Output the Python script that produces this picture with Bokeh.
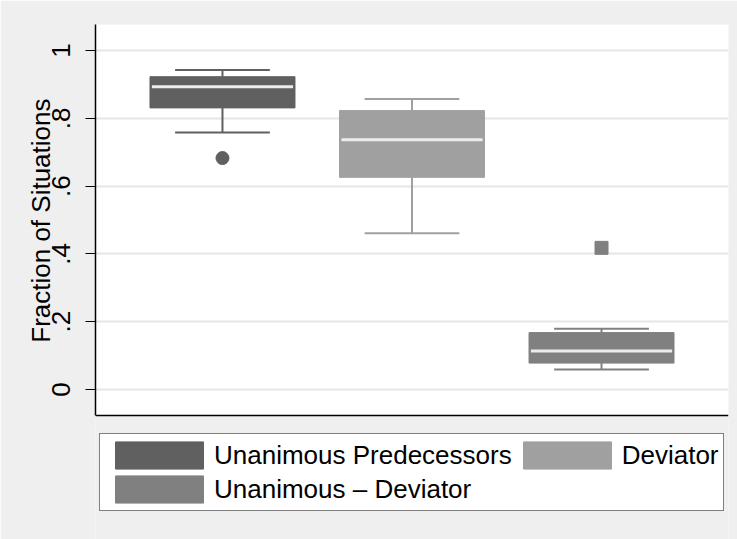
from bokeh.plotting import figure
from bokeh.models import (ColumnDataSource, Legend, LegendItem, FixedTicker, Range1d,
                          BoxAnnotation, Title)
from bokeh.embed import file_html
from bokeh.resources import INLINE

# ---- data ----
groups = ["Unanimous Predecessors", "Deviator", "Unanimous \u2013 Deviator"]
positions = [0, 1, 2]
lower_whisker = [0.758, 0.461, 0.059]
q1 = [0.831, 0.626, 0.078]
median = [0.893, 0.737, 0.114]
q3 = [0.923, 0.823, 0.168]
upper_whisker = [0.943, 0.857, 0.179]
outlier_group = [0, 2]
outlier_value = [0.683, 0.418]
y_ticks = [0, 0.2, 0.4, 0.6, 0.8, 1]
y_tick_labels = ["0", ".2", ".4", ".6", ".8", "1"]
y_title = "Fraction of Situations"

# ---- styles / layout ----
colors = ["#606060", "#a0a0a0", "#808080"]
markers = ["circle", "circle", "square"]
FONT = "Liberation Sans"
BG = "#efefef"
box_w = 0.765
cap_w = 0.5
y_lo, y_hi = -0.077, 1.077      # visible plot region (white)
y_frame_lo = -0.4425            # frame extends down to hold the legend

p = figure(width=737, height=539, output_backend="svg", toolbar_location=None,
           x_range=Range1d(-0.67, 2.67), y_range=Range1d(y_frame_lo, y_hi),
           min_border_left=95, min_border_right=9, min_border_top=24,
           min_border_bottom=0)
p.background_fill_color = BG
p.border_fill_color = BG
p.outline_line_color = None

# white plot region
p.add_layout(BoxAnnotation(bottom=y_lo, fill_color="white", fill_alpha=1.0,
                           line_color=None, level="image"))

# x axis: only its line is shown, at the bottom of the plot region
p.xaxis.fixed_location = y_lo
p.xaxis.ticker = FixedTicker(ticks=positions)
p.xaxis.major_label_overrides = {x: g for x, g in zip(positions, groups)}
p.xaxis.major_label_text_color = None
p.xaxis.major_tick_line_color = None
p.xaxis.major_tick_out = 0
p.xaxis.major_tick_in = 0
p.xaxis.minor_tick_line_color = None
p.xaxis.axis_line_color = "black"
p.xaxis.axis_line_width = 1.5
p.xgrid.grid_line_color = None

p.yaxis.bounds = (y_lo, y_hi)
p.yaxis.ticker = FixedTicker(ticks=y_ticks)
p.yaxis.major_label_overrides = {t: l for t, l in zip(y_ticks, y_tick_labels)}
p.yaxis.major_label_orientation = "vertical"
p.yaxis.major_label_text_font = FONT
p.yaxis.major_label_text_font_size = "26px"
p.yaxis.major_label_text_color = "black"
p.yaxis.major_label_standoff = 15
p.yaxis.major_tick_out = 10
p.yaxis.major_tick_in = 0
p.yaxis.major_tick_line_color = "black"
p.yaxis.major_tick_line_width = 1.2
p.yaxis.minor_tick_line_color = None
p.yaxis.axis_line_color = "black"
p.yaxis.axis_line_width = 1.5
p.ygrid.grid_line_color = "#e6e6e6"
p.ygrid.grid_line_width = 2

# y title, placed along the white plot region
p.add_layout(Title(text=y_title, align="right", offset=74, vertical_align="bottom",
                   standoff=-12, text_font=FONT, text_font_size="26px",
                   text_font_style="normal", text_color="black"), "left")

items = []
for i, g in enumerate(groups):
    c = colors[i]
    x = positions[i]
    src = ColumnDataSource(dict(x=[x], q1=[q1[i]], q3=[q3[i]], med=[median[i]],
                                lo=[lower_whisker[i]], hi=[upper_whisker[i]],
                                x0=[x - cap_w / 2], x1=[x + cap_w / 2],
                                m0=[x - box_w / 2 + 0.01], m1=[x + box_w / 2 - 0.01]))
    # whiskers
    p.segment(x0="x", y0="q3", x1="x", y1="hi", source=src, line_color=c, line_width=2)
    p.segment(x0="x", y0="q1", x1="x", y1="lo", source=src, line_color=c, line_width=2)
    p.segment(x0="x0", y0="hi", x1="x1", y1="hi", source=src, line_color=c, line_width=2)
    p.segment(x0="x0", y0="lo", x1="x1", y1="lo", source=src, line_color=c, line_width=2)
    # box
    r = p.vbar(x="x", top="q3", bottom="q1", width=box_w, source=src,
               fill_color=c, line_color=c, line_width=1)
    # median
    p.segment(x0="m0", y0="med", x1="m1", y1="med", source=src,
              line_color="#ececec", line_width=3)
    # outliers
    ox = [positions[g_] for g_, v in zip(outlier_group, outlier_value) if g_ == i]
    oy = [v for g_, v in zip(outlier_group, outlier_value) if g_ == i]
    if oy:
        p.scatter(x=ox, y=oy, marker=markers[i], size=13, fill_color=c, line_color=c)
    items.append(LegendItem(label=g, renderers=[r]))

legend = Legend(items=[items[0], items[1], items[2]], orientation="horizontal", ncols=2,
                location=(4, 28), glyph_width=110, glyph_height=34, label_standoff=0,
                spacing=0, padding=4, margin=0,
                label_text_font=FONT, label_text_font_size="26px", label_text_color="black",
                border_line_color="black", border_line_width=1,
                background_fill_color="white", background_fill_alpha=1.0)
p.add_layout(legend, "center")

open("out.html", "w").write(file_html(p, INLINE))
